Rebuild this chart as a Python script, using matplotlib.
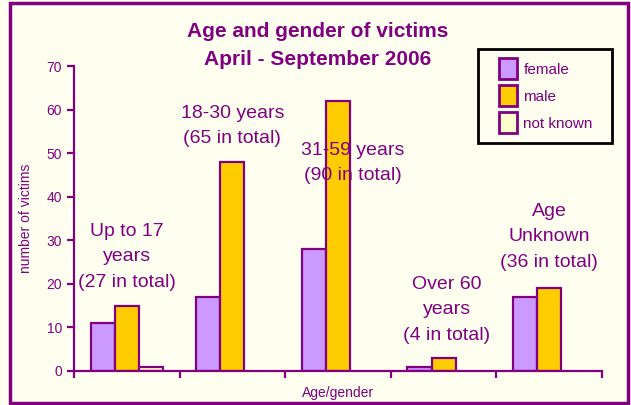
import matplotlib
matplotlib.use("Agg")
import matplotlib.pyplot as plt
from matplotlib.patches import Rectangle, Patch
import numpy as np

plt.rcParams['font.family'] = ['Liberation Sans', 'DejaVu Sans']

groups = ["Up to 17\nyears\n(27 in total)", "18-30 years\n(65 in total)",
          "31-59 years\n(90 in total)", "Over 60\nyears\n(4 in total)",
          "Age\nUnknown\n(36 in total)"]
female = [11, 17, 28, 1, 17]
male = [15, 48, 62, 3, 19]
not_known = [1, 0, 0, 0, 0]
label_y = [26.2, 56.2, 47.7, 14.0, 30.8]
label_dx = [0, 0, 0.14, 0.03, 0]

PURPLE = '#800080'
BG = '#FFFFF0'
C_F = '#CC99FF'
C_M = '#FFCC00'
C_N = '#FFFFCC'

fig = plt.figure(figsize=(6.31, 4.05), dpi=100, facecolor=BG)
ax = fig.add_axes([74/631, 1-371/405, (602-74)/631, (371-66)/405])
ax.set_facecolor(BG)

x = np.arange(len(groups))
w = 0.228
ax.bar(x - w, female, w, color=C_F, edgecolor=PURPLE, linewidth=1.6)
ax.bar(x, male, w, color=C_M, edgecolor=PURPLE, linewidth=1.6)
nk = np.array(not_known)
mask = nk > 0
ax.bar(x[mask] + w, nk[mask], w, color=C_N, edgecolor=PURPLE, linewidth=1.6)

ax.set_xlim(-0.5, len(groups) - 0.5)
ax.set_ylim(0, 70)
ax.set_yticks(range(0, 71, 10))
ax.set_xticks(np.arange(-0.5, len(groups), 1.0))
ax.set_xticklabels([])
for s in ['top', 'right']:
    ax.spines[s].set_visible(False)
for s in ['left', 'bottom']:
    ax.spines[s].set_color(PURPLE)
    ax.spines[s].set_linewidth(1.6)
ax.tick_params(axis='both', colors=PURPLE, width=1.6, length=5, direction='out', labelsize=10)

ax.set_ylabel("number of victims", color=PURPLE, fontsize=10, labelpad=10)
ax.set_xlabel("Age/gender", color=PURPLE, fontsize=10, labelpad=2)

for i, g in enumerate(groups):
    ax.text(i + label_dx[i], label_y[i], g, ha='center', va='center', color=PURPLE,
            fontsize=14, linespacing=1.64)

fig.text(0.504, 1 - 45.5/405, "Age and gender of victims\nApril - September 2006",
         ha='center', va='center', color=PURPLE, fontsize=15, fontweight='bold',
         linespacing=1.58)

handles = [Patch(facecolor=C_F, edgecolor=PURPLE, linewidth=2, label='female'),
           Patch(facecolor=C_M, edgecolor=PURPLE, linewidth=2, label='male'),
           Patch(facecolor=C_N, edgecolor=PURPLE, linewidth=2, label='not known')]
leg = fig.legend(handles=handles, loc='upper left',
                 bbox_to_anchor=(499/631, 1 - 58/405), frameon=False,
                 fontsize=11, handlelength=1.2, handleheight=1.75,
                 labelspacing=0.39, borderpad=0, handletextpad=0.4,
                 borderaxespad=0)
for t in leg.get_texts():
    t.set_color(PURPLE)

fig.patches.append(Rectangle((478/631, 1 - 143/405), 134/631, 94/405, transform=fig.transFigure,
                             fill=True, facecolor=BG, edgecolor='black', linewidth=2, zorder=0.5))
fig.patches.append(Rectangle((10/631, 2/405), 618/631, 400/405, transform=fig.transFigure,
                             fill=False, edgecolor=PURPLE, linewidth=2.5))

fig.savefig("out.png", dpi=100, facecolor=BG)
